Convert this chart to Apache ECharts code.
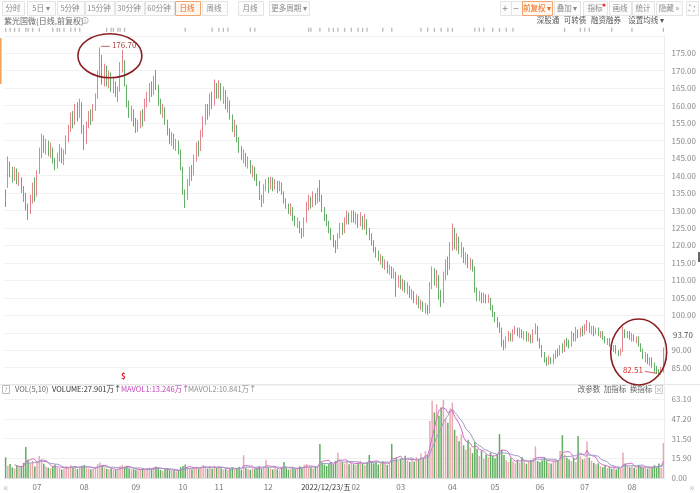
<!DOCTYPE html>
<html><head><meta charset="utf-8">
<script src="https://cdn.jsdelivr.net/npm/echarts/dist/echarts.min.js"></script>
<style>html,body{margin:0;padding:0;background:#fff}#c{width:700px;height:493px}</style>
</head><body><div id="c"></div><script>
// ---- data ----
const monthKeys = ['2022-06','2022-07','2022-08','2022-09','2022-10','2022-11','2022-12','2023-01','2023-02','2023-03','2023-04','2023-05','2023-06','2023-07','2023-08'];
const monthDays = [14,21,23,21,16,22,22,17,20,23,19,20,20,21,15];
const monthLabels = ['','07','08','09','10','11','12','01','02','03','04','05','06','07','08'];
// [open, close, low, high]
const candles = [
[134.5,132.0,131.0,136.0],[137.0,143.5,136.5,145.5],[143.0,141.0,139.5,144.0],[141.0,139.5,138.0,142.5],[139.0,141.5,138.5,142.5],
[141.0,138.5,137.5,142.0],[138.5,139.5,137.0,141.0],[139.0,136.0,135.0,139.5],[136.0,133.5,132.5,137.0],[133.5,131.0,130.0,135.0],
[130.5,129.0,127.3,132.0],[129.5,133.0,129.0,134.5],[133.0,136.5,132.0,138.0],[136.0,134.0,132.5,139.5],
[134.5,140.5,134.0,141.5],[141.0,146.5,140.5,148.0],[146.0,150.5,145.0,152.0],[150.0,148.0,146.5,151.5],[148.0,149.5,146.0,150.5],
[149.0,146.5,145.5,150.0],[146.5,148.0,145.0,149.5],[147.5,144.5,143.5,148.0],[144.0,142.5,141.5,145.0],[142.5,145.5,142.0,146.5],
[145.0,147.5,144.0,149.0],[147.0,144.5,143.5,148.0],[144.5,146.0,143.0,147.5],[146.5,150.5,146.0,151.5],[150.5,153.0,149.5,154.5],
[153.5,156.5,152.5,158.0],[156.0,155.0,153.5,158.5],[155.5,158.5,154.5,160.5],[158.0,157.0,155.5,161.0],[157.5,160.5,156.5,162.0],
[160.0,153.5,152.0,161.0],
[153.0,149.5,147.3,154.5],[149.5,154.5,149.0,155.5],[154.5,157.5,153.5,158.5],[157.0,156.0,154.5,159.0],[156.5,159.5,155.5,160.5],
[159.5,162.0,158.5,163.5],[162.5,168.5,162.0,170.0],[169.5,172.5,168.0,176.7],[172.0,167.5,166.0,174.5],[167.0,170.5,165.5,172.0],
[170.0,167.0,165.5,171.5],[167.5,168.5,165.0,170.0],[168.0,165.0,164.0,169.5],[165.0,166.5,163.5,168.0],[166.0,163.5,162.5,167.0],
[163.0,164.0,161.0,165.5],[164.5,171.5,164.0,172.5],[171.5,173.0,169.5,176.0],[172.0,166.0,165.5,173.0],[165.5,160.5,159.5,166.0],
[160.0,157.5,156.5,161.5],[157.5,158.5,155.5,160.0],[158.0,155.5,154.0,159.0],
[155.5,153.0,152.2,156.5],[153.0,154.5,152.5,156.0],[154.5,157.5,153.5,158.5],[157.5,156.0,154.0,159.0],[156.0,160.5,155.5,162.0],
[160.5,162.5,159.5,164.0],[162.0,165.5,161.0,166.5],[165.5,163.5,162.5,167.0],[163.5,167.5,163.0,168.5],[167.5,166.0,164.5,170.2],
[165.5,161.0,160.0,166.0],[161.0,158.5,157.5,162.0],[158.5,159.5,156.5,160.5],[159.0,155.5,154.5,159.5],[155.5,152.5,151.5,156.0],
[152.5,150.0,149.0,153.5],[150.0,151.5,148.5,152.5],[151.0,148.5,147.5,152.0],[148.5,149.5,147.0,150.5],[149.0,147.0,146.0,150.0],
[147.0,142.5,141.5,147.5],
[142.0,135.5,134.5,142.5],[135.0,133.0,130.7,136.0],[133.5,138.0,133.0,139.0],[138.0,141.5,137.0,142.5],[141.0,140.0,138.5,143.0],
[140.5,145.0,140.0,146.0],[145.0,148.5,144.0,149.5],[148.0,147.0,145.5,150.0],[147.5,151.5,147.0,153.0],[151.5,155.5,151.0,157.0],
[155.5,159.0,154.5,160.5],[159.0,157.5,156.0,160.5],[157.5,162.0,157.0,163.5],[162.0,160.5,159.0,164.0],[160.5,165.0,160.0,167.5],
[165.0,163.5,162.0,166.5],
[163.5,166.0,162.0,167.3],[166.0,162.5,161.5,166.5],[162.5,164.0,160.5,165.5],[164.0,160.0,159.0,164.5],[160.0,161.5,158.0,162.5],
[161.0,157.0,156.0,161.5],[157.0,153.5,152.5,157.5],[153.5,154.5,151.0,156.0],[154.0,150.5,149.5,154.5],[150.5,147.5,146.5,151.0],
[147.5,146.0,144.5,148.5],[146.0,146.5,143.5,147.5],[146.0,143.5,142.5,146.5],[143.5,144.5,142.0,145.5],[144.0,141.5,140.5,144.5],
[141.5,142.0,139.5,143.0],[142.0,139.5,138.5,142.5],[139.5,138.0,137.0,140.5],[138.0,134.0,133.0,138.5],[134.0,132.0,131.0,134.5],
[132.5,136.5,132.0,137.5],[136.5,138.0,135.5,139.0],
[138.0,136.5,135.0,139.5],[136.5,138.5,136.0,139.6],[138.5,137.0,135.5,139.5],[137.0,138.0,136.0,139.0],[138.0,136.0,135.0,138.5],
[136.0,137.5,135.5,138.5],[137.5,135.0,134.5,138.0],[135.0,133.0,132.0,135.5],[133.0,131.5,130.5,133.5],[131.5,130.0,129.0,132.0],
[130.0,131.0,128.5,132.0],[130.5,128.0,127.0,131.0],[128.0,126.5,125.5,128.5],[126.5,127.0,125.0,128.0],[126.5,124.5,123.5,127.0],
[124.5,123.0,122.0,125.0],[123.0,127.0,122.5,128.0],[127.0,131.5,126.5,132.5],[131.5,133.0,130.0,134.5],[133.0,132.0,130.5,134.0],
[132.0,134.0,131.0,135.5],[134.0,132.5,131.5,135.0],
[132.5,135.5,132.0,136.5],[135.5,134.0,132.5,138.7],[134.0,130.5,129.5,134.5],[130.5,128.0,127.0,131.0],[128.0,126.5,125.5,129.0],
[126.5,124.5,123.5,127.0],[124.5,122.5,121.5,125.0],[122.5,120.5,119.5,123.0],[120.5,119.5,117.8,121.5],[119.5,122.5,119.0,123.5],
[122.5,125.5,122.0,126.5],[125.5,124.0,123.0,126.5],[124.0,127.0,123.5,128.0],[127.0,128.5,126.0,130.0],[128.5,127.0,126.0,129.5],
[127.0,129.0,126.5,130.0],[129.0,127.5,126.5,130.0],
[127.5,128.5,126.0,129.5],[128.5,126.0,125.0,129.0],[126.0,128.0,125.5,129.5],[128.0,125.5,124.5,128.5],[125.5,127.5,124.5,129.0],
[127.0,124.0,123.0,127.5],[124.0,122.5,121.5,125.0],[122.5,121.0,120.0,123.5],[121.0,119.0,118.0,121.5],[119.0,117.5,116.5,119.5],
[117.5,116.0,115.5,118.5],[116.0,116.5,114.5,117.5],[116.5,114.5,113.5,117.0],[114.5,115.0,113.0,116.0],[115.0,113.0,112.0,115.5],
[113.0,113.5,111.5,114.5],[113.5,111.5,110.5,114.0],[111.5,112.5,110.5,113.5],[112.0,109.0,105.3,112.5],[109.0,110.5,108.0,111.5],
[110.5,108.5,107.5,111.5],[108.5,109.5,107.0,110.5],[109.5,107.5,106.5,110.0],[107.5,108.0,106.0,109.5],[108.0,106.0,105.0,108.5],
[106.0,106.5,104.5,107.5],[106.5,104.5,103.5,107.0],[104.5,105.0,103.0,106.0],[105.0,103.0,102.0,105.5],[103.0,103.5,101.5,104.5],
[103.5,102.0,101.0,104.0],[102.0,102.5,100.5,103.5],[102.5,101.0,100.2,103.0],[101.0,108.5,100.5,109.5],[108.5,112.5,107.5,114.0],
[112.0,110.0,108.5,113.5],[110.0,111.5,108.0,113.0],[111.0,105.5,104.5,111.5],[105.5,103.5,102.4,107.3],[104.0,111.0,103.5,112.5],
[111.0,114.5,110.0,116.0],[114.0,113.0,111.5,116.8],[113.5,119.5,113.0,121.0],
[119.5,123.5,118.5,126.3],[123.0,120.0,119.0,125.0],[120.0,122.0,118.5,123.5],[121.5,118.5,117.5,122.5],[118.5,119.5,116.5,121.0],
[119.0,116.0,115.0,119.5],[116.0,117.0,114.5,118.0],[116.5,114.5,113.5,117.5],[114.5,115.5,113.0,116.5],[115.0,113.5,112.5,116.0],
[113.5,107.5,106.5,114.0],[107.0,105.0,104.0,108.0],[105.0,106.5,104.0,107.0],[106.0,104.5,103.5,106.5],[104.5,105.5,103.5,106.5],
[105.5,104.0,103.4,106.0],[104.0,105.0,103.5,106.0],[104.5,102.5,101.5,105.0],[102.5,100.5,99.5,103.0],
[100.5,99.0,98.0,101.0],[99.0,97.5,96.5,99.5],[97.5,96.0,95.0,98.0],[96.0,92.0,91.0,96.5],[92.0,91.0,90.0,93.0],
[91.0,93.5,90.5,94.0],[93.5,94.5,92.5,95.5],[94.5,93.0,92.5,95.0],[93.0,95.5,92.5,96.0],[95.5,96.0,94.5,97.0],
[96.0,94.5,94.0,96.5],[94.5,95.5,93.5,96.5],[95.5,94.0,93.5,96.0],[94.0,95.0,93.0,95.5],[95.0,93.5,92.5,95.5],
[93.5,94.5,92.5,95.0],[94.0,92.5,92.0,94.5],[92.5,95.5,92.0,96.0],[95.5,96.5,94.5,97.7],[96.5,93.0,92.5,97.0],
[93.0,91.0,90.5,93.5],[91.0,89.0,88.0,91.5],[89.0,87.0,86.5,89.5],[87.0,86.5,85.5,88.0],[86.5,87.5,85.8,88.5],
[87.5,86.5,86.0,88.0],[86.5,88.0,86.0,89.0],[88.0,89.5,87.5,90.0],[89.5,89.0,88.0,90.5],[89.0,91.0,88.5,91.5],
[91.0,90.0,89.2,92.0],[90.0,92.5,89.5,93.0],[92.5,92.0,91.0,93.5],[92.0,91.5,90.5,93.0],[91.5,94.5,91.0,95.5],
[94.5,93.0,92.5,95.0],[93.0,95.5,92.5,96.7],[95.5,94.5,93.5,96.0],[94.5,96.0,93.8,96.5],[96.0,95.0,94.0,97.0],
[95.0,96.5,94.5,97.5],[96.5,97.5,95.5,98.7],[97.5,95.5,95.0,98.0],[95.5,96.5,94.5,97.0],[96.5,95.0,94.0,97.0],
[95.0,96.0,94.5,96.5],[96.0,94.5,94.0,96.5],[94.5,95.0,93.5,95.5],[95.0,93.5,93.0,95.5],[93.5,92.5,92.0,94.0],
[92.5,93.0,91.5,93.5],[93.0,91.5,91.0,93.5],[91.5,90.5,90.0,92.0],[90.5,91.0,89.5,91.5],[91.0,89.5,89.0,91.5],
[89.5,89.0,88.3,90.0],[89.0,90.0,88.5,90.5],[90.0,95.5,89.5,96.7],[95.5,94.0,93.5,96.0],[94.5,95.0,93.5,95.5],
[95.0,93.5,93.0,95.5],
[93.5,94.0,92.5,95.0],[94.0,93.0,92.5,94.5],[93.0,93.5,92.0,94.0],[93.5,91.5,91.0,94.0],[91.5,90.0,89.5,92.0],
[90.0,88.0,87.5,90.5],[88.0,88.5,86.5,89.5],[88.5,86.5,86.0,89.0],[86.5,87.5,85.5,88.0],[87.5,85.5,85.0,88.0],
[85.5,84.5,83.5,86.5],[84.5,83.9,83.2,85.5],[83.9,83.2,82.51,84.6],[83.4,84.3,83.0,85.2],[84.0,90.2,83.6,90.8]
];
// volume in 万
const volumes = [
16.5,9.8,11.2,8.4,7.6,10.3,8.9,9.5,12.1,24.8,14.6,11.8,13.9,9.2,
12.5,17.6,15.2,11.4,9.1,8.3,7.6,9.4,10.8,8.1,7.9,6.8,7.3,9.6,8.8,10.2,8.4,9.1,7.2,8.6,9.8,
10.4,8.2,7.5,6.9,7.8,8.6,11.3,12.4,9.6,8.1,7.3,6.9,7.5,6.4,6.8,7.2,9.5,10.6,8.9,9.7,7.6,6.8,7.1,
6.5,5.9,6.8,7.4,6.2,7.9,8.3,7.1,8.8,9.2,7.8,6.6,5.8,6.9,7.5,6.3,5.6,6.1,5.4,5.9,8.7,
9.6,10.8,8.5,7.9,6.7,8.2,9.1,7.4,8.6,10.3,9.4,7.6,8.8,7.3,9.9,8.1,
9.3,7.8,6.9,7.6,6.4,7.2,8.5,6.8,7.7,8.9,6.6,18.2,8.4,7.1,6.5,7.8,6.9,8.2,9.6,7.4,8.8,14.6,
8.7,7.5,6.8,9.2,7.1,6.3,8.4,12.8,7.9,6.6,7.3,8.1,6.9,7.7,9.4,8.2,10.6,11.3,9.1,8.4,7.6,8.9,
9.7,27.2,12.4,10.8,9.6,11.2,12.8,10.4,13.6,20.1,14.3,12.7,11.5,13.2,10.9,12.4,11.1,
10.6,12.3,13.8,11.4,10.2,12.6,18.4,13.1,11.7,12.9,10.8,11.6,13.4,12.2,10.5,11.9,27.3,14.8,16.2,13.5,
15.6,13.9,17.8,14.2,12.8,15.4,13.1,16.7,14.5,19.6,15.8,21.4,18.3,45.6,61.8,52.4,58.9,49.7,56.3,62.4,47.8,44.1,55.6,
60.2,38.5,33.7,29.4,34.8,26.1,22.7,30.6,24.3,19.8,28.7,23.4,17.6,21.9,15.3,18.7,16.4,20.2,17.5,
15.8,19.4,35.1,22.6,18.3,14.2,12.7,15.9,13.4,11.8,14.6,12.3,16.8,13.1,11.4,12.9,14.3,15.7,25.2,13.6,
12.8,14.1,16.5,13.9,12.2,11.6,13.7,15.2,14.4,21.6,34.2,18.7,16.1,14.8,13.5,15.9,12.7,33.6,17.4,14.9,
15.6,29.1,16.3,13.8,12.1,10.9,11.7,9.4,8.6,10.2,7.9,8.8,7.4,9.1,6.8,8.3,7.2,20.3,11.6,9.8,8.7,
9.3,8.1,7.6,10.4,8.9,8.1,9.2,7.6,8.9,8.38,10.2,8.7,11.5,7.931,27.901
];
const priceTickHidden = [80, 95, 180];
const volTickLabels = ['0.00','15.90','31.50','47.20','63.10'];
const crossPrice = 93.70;
const crossDateIdx = 133;
const crossDateText = '2022/12/23/五';
const peakIdx = 42, peakText = '176.70';
const lowIdx = 291, lowText = '82.51';
const dividendIdx = 52;
const eventIdx = [0,2,4,6,9,10,12,15,21,23,24,26,29,31,33,45,47,48,50,51,53,80,92,95,97,99,109,111,135,136,140,144,146,148,151,154,157,159,161,168,172,185,188,191,194,197,199,209,211,213,217,220,223,226,249,256,258,260,270,279,293];

// ---- build ----
const categories = [], monthStart = {};
monthKeys.forEach((k, m) => {
  for (let d = 1; d <= monthDays[m]; d++) {
    if (d === 1 && monthLabels[m]) monthStart[categories.length] = monthLabels[m];
    categories.push(k + '#' + d);
  }
});
function ma(n) {
  return volumes.map((v, i) => {
    if (i < n - 1) return '-';
    let s = 0; for (let j = i - n + 1; j <= i; j++) s += volumes[j];
    return +(s / n).toFixed(3);
  });
}
const UP = '#ea8c96', UPB = '#e27581', DN = '#55a655';
const volData = volumes.map((v, i) => ({ value: v, itemStyle: { color: candles[i][1] >= candles[i][0] ? '#eaa8b1' : '#5fae5f' } }));
const FF = '"Noto Sans CJK SC","Noto Sans",sans-serif';

const chart = echarts.init(document.getElementById('c'), null, { renderer: 'canvas' });
chart.setOption({
  animation: false,
  backgroundColor: '#fff',
  textStyle: { fontFamily: FF },
  grid: [
    { left: 4.5, right: 35.5, top: 35.8, height: 349.4 },
    { left: 4.5, right: 35.5, top: 399, height: 79 }
  ],
  xAxis: [
    { type: 'category', gridIndex: 0, data: categories, boundaryGap: true, axisLine: { show: false }, axisTick: { show: false }, axisLabel: { show: false }, splitLine: { show: false } },
    { type: 'category', gridIndex: 1, data: categories, boundaryGap: true,
      axisLine: { lineStyle: { color: '#dedede' } }, axisTick: { show: false }, splitLine: { show: false },
      axisLabel: { interval: (i) => monthStart[i] !== undefined, formatter: (v, i) => monthStart[i] || '', color: '#777', fontSize: 8, margin: 5, fontFamily: FF } }
  ],
  yAxis: [
    { type: 'value', gridIndex: 0, position: 'right', min: 80, max: 180, interval: 5,
      axisLine: { show: false }, axisTick: { show: false },
      axisLabel: { color: '#8a8a8a', fontSize: 8, margin: 7, fontFamily: FF, formatter: v => priceTickHidden.includes(v) ? '' : v.toFixed(2) },
      splitLine: { lineStyle: { color: '#f1f1f1', width: 1 } } },
    { type: 'value', gridIndex: 1, position: 'right', min: 0, max: 63.1, interval: 15.775,
      axisLine: { show: false }, axisTick: { show: false },
      axisLabel: { color: '#8a8a8a', fontSize: 8, margin: 7, fontFamily: FF, formatter: v => volTickLabels[Math.round(v / 15.775)] },
      splitLine: { lineStyle: { color: '#f1f1f1' } } }
  ],
  series: [
    { type: 'candlestick', xAxisIndex: 0, yAxisIndex: 0, data: candles, barWidth: 1.1,
      itemStyle: { color: UP, color0: DN, borderColor: UPB, borderColor0: DN, borderWidth: 0.9 } },
    { type: 'scatter', xAxisIndex: 0, yAxisIndex: 0, clip: false, silent: true, symbol: 'rect', symbolSize: [1.3, 4],
      itemStyle: { color: '#a8a8a8' }, data: eventIdx.map(i => [i, 181.7]) },
    { type: 'bar', xAxisIndex: 1, yAxisIndex: 1, data: volData, barWidth: 1.5 },
    { type: 'line', xAxisIndex: 1, yAxisIndex: 1, data: ma(5), showSymbol: false, symbol: 'none', lineStyle: { color: '#d36bc9', width: 1 } },
    { type: 'line', xAxisIndex: 1, yAxisIndex: 1, data: ma(10), showSymbol: false, symbol: 'none', lineStyle: { color: '#9c9cc4', width: 1 } }
  ]
});

// ---- decorations ----
function T(x, y, text, color, size, align, extra) {
  return Object.assign({ type: 'text', x, y, z: 100, silent: true,
    style: Object.assign({ text, fill: color, fontSize: size || 8, fontFamily: FF, align: align || 'left', verticalAlign: 'middle' }, extra || {}) });
}
function R(x, y, w, h, stroke, fill, z) {
  return { type: 'rect', z: z || 90, silent: true, shape: { x, y, width: w, height: h }, style: { stroke: stroke || 'none', fill: fill || 'none', lineWidth: 1 } };
}
function L(x1, y1, x2, y2, color, w) {
  return { type: 'line', z: 95, silent: true, shape: { x1, y1, x2, y2 }, style: { stroke: color, lineWidth: w || 1 } };
}
const px = (i, p) => chart.convertToPixel({ gridIndex: 0 }, [i, p]);
const g = [];
// top toolbar left: [text, center x, width, active]
const leftBtns = [['分时',13,22],['5日 ▾',41,28],['5分钟',70,27],['15分钟',99,29],['30分钟',129,29],['60分钟',159,29],['日线',187,25,true],['周线',214,25],['月线',250,25],['更多周期 ▾',289,40]];
leftBtns.forEach(b => {
  const act = b[3];
  g.push(R(Math.round(b[1] - b[2] / 2) + 0.5, 1.5, b[2], 14, act ? '#f2a56f' : '#e4e4e4', act ? '#fff6ee' : '#fcfcfc'));
  g.push(T(b[1], 8.5, b[0], act ? '#ee6a1c' : '#8a8a8a', 7.5, 'center'));
});
const rightBtns = [['+',505,11],['−',516,11],['前复权 ▾',537,30,true],['叠加 ▾',567,26],['指标',595,24],['画线',620,22],['统计',643,22],['隐藏 »',669,26],['⛶',692,12]];
rightBtns.forEach(b => {
  const act = b[3];
  g.push(R(Math.round(b[1] - b[2] / 2) + 0.5, 1.5, b[2], 14, act ? '#f2a56f' : '#e4e4e4', act ? '#fff6ee' : '#fcfcfc'));
  g.push(T(b[1], 8.5, b[0], act ? '#ee6a1c' : '#8a8a8a', b[0] === '+' || b[0] === '−' ? 10 : 7.5, 'center'));
});
g.push({ type: 'circle', z: 101, silent: true, shape: { cx: 604, cy: 5, r: 1.6 }, style: { fill: '#e33' } });
// second row
g.push(T(4, 20.5, '紫光国微(日线,前复权)', '#666', 8));
g.push({ type: 'circle', z: 100, silent: true, shape: { cx: 85, cy: 20.5, r: 3.2 }, style: { stroke: '#aaa', fill: 'none', lineWidth: 0.8 } });
g.push(T(85, 20.5, 'i', '#999', 6, 'center'));
[['深股通',548],['可转债',575],['融资融券',606],['设置均线 ▾',646]].forEach(t => g.push(T(t[1], 20.5, t[0], '#555', 7.5, 'center')));
// left orange mark & scroll mark
g.push(R(0, 38, 1.6, 46, null, '#f2a45c'));
g.push(R(698, 252, 2, 10, null, '#666'));
// frame lines
g.push(L(0, 384.5, 700, 384.5, '#e6e6e6'));
g.push(L(664.5, 35, 664.5, 478, '#ececec'));
// crosshair price label on axis
const cp = px(0, crossPrice)[1];
g.push(T(672, cp - 2, crossPrice.toFixed(2), '#555', 8, 'left', { backgroundColor: '#fff', padding: [1, 1] }));
// volume header
g.push(R(2.5, 385.5, 7, 8, '#bbb', '#fff'));
g.push(T(6, 389.5, '?', '#999', 6, 'center'));
g.push(T(15, 389.5, 'VOL(5,10)', '#666', 7.5));
g.push(T(52, 389.5, 'VOLUME:27.901万↑', '#333', 7.5));
g.push(T(121, 389.5, 'MAVOL1:13.246万↑', '#c33fbd', 7.5));
g.push(T(188, 389.5, 'MAVOL2:10.841万↑', '#8d8d8d', 7.5));
[['改参数',589],['加指标',615],['换指标',641]].forEach(t => g.push(T(t[1], 389.5, t[0], '#666', 7.5, 'center')));
g.push(R(655.5, 385.5, 7, 8, '#ccc', '#fff'));
g.push(T(659, 389.5, '×', '#999', 7, 'center'));
// bottom arrows
g.push(T(6, 487, '«', '#bbb', 10, 'center'));
g.push(T(692, 487, '»', '#bbb', 10, 'center'));
// crosshair date label
const cx = px(crossDateIdx, 100)[0];
g.push(T(cx - 3, 487, crossDateText, '#333', 7.5, 'left', { backgroundColor: '#fff', padding: [1, 0] }));
// peak label
const pk = px(peakIdx, candles[peakIdx][3]);
g.push(L(pk[0] + 1, pk[1] - 1, pk[0] + 10, pk[1] - 1, '#b0413e', 0.8));
g.push(T(pk[0] + 12, pk[1] - 2, peakText, '#a8443f', 8));
// low label
const lw = px(lowIdx, candles[lowIdx][2]);
g.push(L(lw[0] - 2, lw[1] - 3, lw[0] - 14, lw[1] - 5, '#d03333', 0.8));
g.push(T(lw[0] - 16, lw[1] - 6, lowText, '#d03333', 8, 'right'));
// dividend marker
const dv = px(dividendIdx, 100)[0];
g.push(T(dv + 1, 376, '$', '#e02020', 8, 'center', { fontWeight: 'bold' }));
// annotation ellipses
const e1 = px(46, 174.3), e2 = px(282, 89.5);
g.push({ type: 'ellipse', z: 110, silent: true, shape: { cx: e1[0] + 1, cy: e1[1], rx: 32, ry: 22 }, style: { stroke: '#8a1f22', fill: 'none', lineWidth: 1.6 } });
g.push({ type: 'ellipse', z: 110, silent: true, shape: { cx: e2[0], cy: e2[1], rx: 28, ry: 33 }, style: { stroke: '#8a1f22', fill: 'none', lineWidth: 1.6 } });
chart.setOption({ graphic: g });
</script></body></html>
